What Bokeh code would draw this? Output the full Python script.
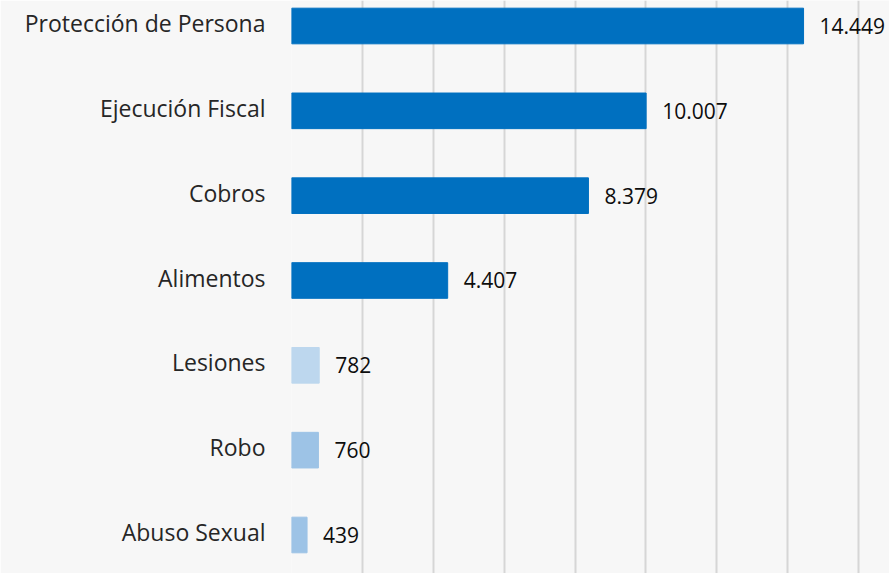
from bokeh.plotting import figure
from bokeh.models import ColumnDataSource, FixedTicker, LabelSet, Range1d
from bokeh.core.properties import value
from bokeh.embed import file_html
from bokeh.resources import INLINE

categories = ["Abuso Sexual", "Robo", "Lesiones", "Alimentos", "Cobros",
              "Ejecución Fiscal", "Protección de Persona"]
values = [439, 760, 782, 4407, 8379, 10007, 14449]
colors = ["#9DC3E6", "#9DC3E6", "#BDD7EE", "#0070C0", "#0070C0", "#0070C0", "#0070C0"]
grid_ticks = [0, 2000, 4000, 6000, 8000, 10000, 12000, 14000, 16000]

ypos = list(range(len(categories)))
labels = [f"{v:,}".replace(",", ".") for v in values]

src = ColumnDataSource(dict(y=ypos, v=values, c=colors, lab=labels))

p = figure(width=889, height=573, output_backend="svg", toolbar_location=None,
           x_range=Range1d(0, 16874), y_range=Range1d(-0.454, 6.3006),
           min_border_left=291, min_border_right=0, min_border_top=0, min_border_bottom=0)
p.background_fill_color = "#f7f7f7"
p.border_fill_color = "#f7f7f7"
p.outline_line_color = None

p.hbar(y="y", right="v", left=0, height=0.42, color="c", source=src)

# value labels
p.add_layout(LabelSet(x="v", y="y", text="lab", source=src, x_offset=16, y_offset=0,
                      text_baseline="middle", text_font=value("Open Sans"),
                      text_font_size="21px", text_color="#0d0d0d"))

p.xaxis.visible = False
p.xgrid.ticker = FixedTicker(ticks=grid_ticks)
p.xgrid.grid_line_color = "#d6d6d6"
p.xgrid.grid_line_width = 2
p.ygrid.grid_line_color = None

# category labels on the left axis (nudged up slightly to centre on bars)
nudge = 0.035
label_ticks = [i + nudge for i in ypos]
p.yaxis.ticker = FixedTicker(ticks=label_ticks)
p.yaxis.major_label_overrides = {t: c for t, c in zip(label_ticks, categories)}
p.yaxis.axis_line_color = None
p.yaxis.major_tick_line_color = None
p.yaxis.minor_tick_line_color = None
p.yaxis.major_tick_in = 0
p.yaxis.major_tick_out = 0
p.yaxis.major_label_standoff = 26
p.yaxis.major_label_text_font = "Open Sans"
p.yaxis.major_label_text_font_size = "23px"
p.yaxis.major_label_text_font_style = "normal"
p.yaxis.major_label_text_color = "#262626"

open("out.html", "w").write(file_html(p, INLINE))
